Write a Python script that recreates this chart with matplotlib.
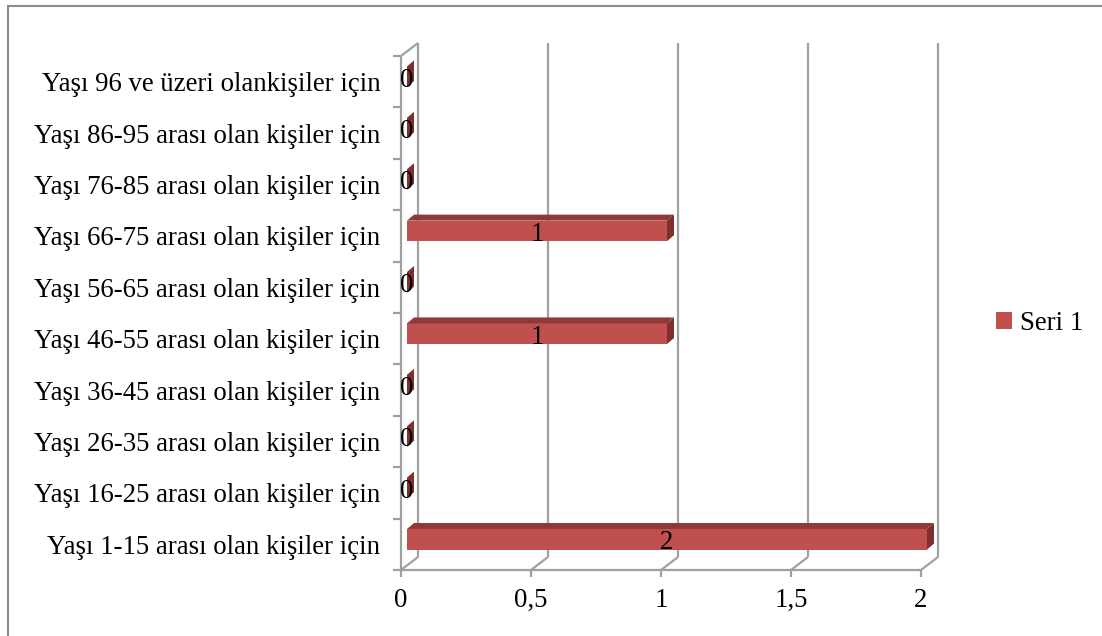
import matplotlib.pyplot as plt
from matplotlib.patches import Polygon, Rectangle, Patch

plt.rcParams['font.family'] = ['Liberation Serif', 'DejaVu Serif']

categories = [
    'Yaşı 1-15 arası olan kişiler için',
    'Yaşı 16-25 arası olan kişiler için',
    'Yaşı 26-35 arası olan kişiler için',
    'Yaşı 36-45 arası olan kişiler için',
    'Yaşı 46-55 arası olan kişiler için',
    'Yaşı 56-65 arası olan kişiler için',
    'Yaşı 66-75 arası olan kişiler için',
    'Yaşı 76-85 arası olan kişiler için',
    'Yaşı 86-95 arası olan kişiler için',
    'Yaşı 96 ve üzeri olankişiler için',
]
values = [2, 0, 0, 0, 1, 0, 1, 0, 0, 0]
x_ticks = [0, 0.5, 1, 1.5, 2]
x_tick_labels = ['0', '0,5', '1', '1,5', '2']
series_name = 'Seri 1'

# styling
W, H = 1102, 636
grid_col = '#a0a0a0'
face_col = '#c0504d'
top_col = '#8f3a38'
side_col = '#7e302e'
wall = (17, 13)       # depth of 3d walls, px
bar_shift = (6, 5)    # bar front face offset from front plane, px
bar_depth = (7, 6)
bar_h = 0.4
fs = 19.3

fig = plt.figure(figsize=(W / 100, H / 100), dpi=100)
ax_l, ax_r, ax_b, ax_t = 401, 921, 570, 56
ax = fig.add_axes([ax_l / W, 1 - ax_b / H, (ax_r - ax_l) / W, (ax_b - ax_t) / H])
ax.set_xlim(0, 2)
ax.set_ylim(0, len(categories))
ux = 2 / (ax_r - ax_l)
uy = len(categories) / (ax_b - ax_t)
wx, wy = wall[0] * ux, wall[1] * uy
n = len(categories)

for s in ax.spines.values():
    s.set_visible(False)

lkw = dict(color=grid_col, lw=1.6, clip_on=False, solid_capstyle='butt')
# left wall
ax.plot([0, 0], [0, n], **lkw)
ax.plot([wx, wx], [wy, n + wy], **lkw)
ax.plot([0, wx], [n, n + wy], **lkw)
# floor front edge and depth lines, back wall gridlines
ax.plot([0, 2], [0, 0], **lkw)
for xv in x_ticks:
    ax.plot([xv, xv + wx], [0, wy], **lkw)
    if xv > 0:
        ax.plot([xv + wx, xv + wx], [wy, n + wy], **lkw)

# ticks
ax.set_xticks(x_ticks)
ax.set_xticklabels(x_tick_labels, fontsize=fs)
ax.tick_params(axis='x', length=5, width=1.6, color=grid_col, pad=8)
ax.set_yticks(range(n + 1))
ax.set_yticklabels([])
ax.tick_params(axis='y', which='major', length=6, width=1.6, color=grid_col)
ax.set_yticks([i + 0.5 for i in range(n)], minor=True)
ax.set_yticklabels(categories, minor=True, fontsize=fs)
ax.tick_params(axis='y', which='minor', length=0, pad=15)

# bars
sx, sy = bar_shift[0] * ux, bar_shift[1] * uy
dx, dy = bar_depth[0] * ux, bar_depth[1] * uy
for i, v in enumerate(values):
    yb = i + 0.5 - bar_h / 2 + sy
    yt = yb + bar_h
    x0 = sx
    x1 = sx + v
    ax.add_patch(Rectangle((x0, yb), v, bar_h, fc=face_col, ec='none', clip_on=False, zorder=3))
    ax.add_patch(Polygon([(x0, yt), (x1, yt), (x1 + dx, yt + dy), (x0 + dx, yt + dy)],
                         fc=top_col, ec='none', clip_on=False, zorder=3))
    ax.add_patch(Polygon([(x1, yb), (x1, yt), (x1 + dx, yt + dy), (x1 + dx, yb + dy)],
                         fc=side_col, ec='none', clip_on=False, zorder=3))
    ax.text(x0 + v / 2, i + 0.5 + sy * 0.3, str(v), ha='center', va='center',
            fontsize=fs, zorder=4)

# legend
fig.legend(handles=[Patch(fc=face_col, ec='none', label=series_name)],
           loc='center left', bbox_to_anchor=(972 / W, 1 - 323 / H), frameon=False,
           fontsize=fs, handlelength=0.6, handleheight=0.6, handletextpad=0.3)

# chart border
fig.patches.append(Rectangle((8 / W, -0.05), 1.2, 1 - 6 / H + 0.05,
                             transform=fig.transFigure, fill=False,
                             ec='#8a8a8a', lw=1.5))

fig.savefig('out.png', dpi=100)
